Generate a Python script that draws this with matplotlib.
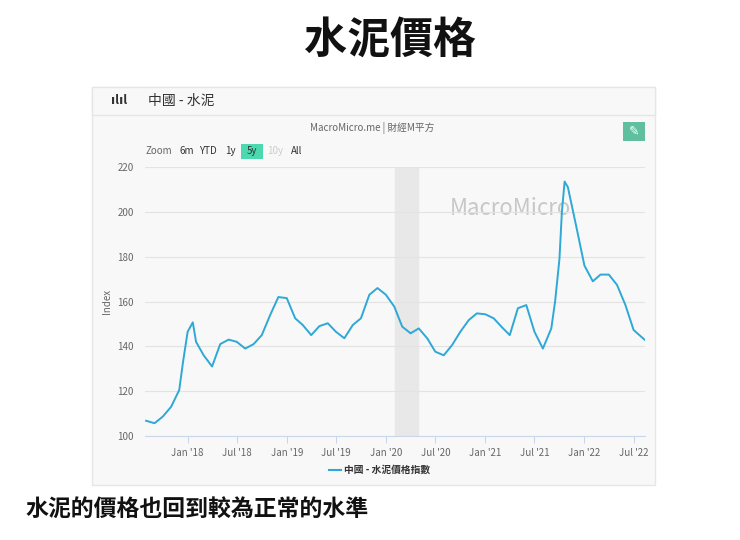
import matplotlib
matplotlib.use("Agg")
import matplotlib.pyplot as plt
from matplotlib.patches import Rectangle
import pandas as pd

plt.rcParams['font.family'] = ['Noto Sans CJK TC', 'DejaVu Sans']

dates = ["2017-08-01","2017-09-01","2017-10-01","2017-11-01","2017-12-01","2017-12-15","2018-01-01","2018-01-20",
         "2018-02-01","2018-03-01","2018-04-01","2018-05-01","2018-06-01","2018-07-01","2018-08-01","2018-09-01",
         "2018-10-01","2018-11-01","2018-12-01","2019-01-01","2019-02-01","2019-03-01","2019-04-01","2019-05-01",
         "2019-06-01","2019-07-01","2019-08-01","2019-09-01","2019-10-01","2019-11-01","2019-12-01","2020-01-01",
         "2020-02-01","2020-03-01","2020-04-01","2020-05-01","2020-06-01","2020-07-01","2020-08-01","2020-09-01",
         "2020-10-01","2020-11-01","2020-12-01","2021-01-01","2021-02-01","2021-03-01","2021-04-01","2021-05-01",
         "2021-06-01","2021-07-01","2021-08-01","2021-09-01","2021-09-15","2021-10-01","2021-10-10","2021-10-20",
         "2021-11-01","2021-12-01","2022-01-01","2022-02-01","2022-03-01","2022-04-01","2022-05-01","2022-06-01",
         "2022-07-01","2022-08-10"]
values = [106.8,105.7,108.6,113,120.5,133,146.5,150.7,
          142,136,131,141,143,142,139,141,
          145,154,162,161.5,152.5,149.5,145,149,
          150.3,146.5,143.6,149.5,152.5,163,166,163,
          157.7,148.8,145.8,148,143.6,137.6,136,140.6,
          146.5,151.7,154.7,154.3,152.5,148.8,145,157,
          158.4,146.5,139,148,160,179,200,213.5,
          211,194,176,169,172,172,167.4,158.4,
          147.3,143]
series_name = "中國 - 水泥價格指數"
tick_labels = ["Jan '18","Jul '18","Jan '19","Jul '19","Jan '20","Jul '20","Jan '21","Jul '21","Jan '22","Jul '22"]
tick_dates = ["2018-01-01","2018-07-01","2019-01-01","2019-07-01","2020-01-01","2020-07-01","2021-01-01","2021-07-01","2022-01-01","2022-07-01"]
yticks = [100,120,140,160,180,200,220]

W,H = 740,540
fig = plt.figure(figsize=(W/100,H/100), dpi=100)
fig.patch.set_facecolor("white")
fig.text(390/W, 1-40/H, "水泥價格", ha="center", va="center", fontsize=31, fontweight="bold", color="#111")
fig.text(25/W, 1-510/H, "水泥的價格也回到較為正常的水準", ha="left", va="center", fontsize=16.5, fontweight="bold", color="#111")

fig.patches.append(Rectangle((92/W, 1-485/H), (655-92)/W, (485-87)/H, transform=fig.transFigure, facecolor="#f8f8f8", edgecolor="#e6e6e6", zorder=0))
fig.patches.append(Rectangle((92/W, 1-115/H), (655-92)/W, (115-87)/H, transform=fig.transFigure, facecolor="#f8f8f8", edgecolor="#e6e6e6", zorder=0))
fig.text(111/W, 1-101/H, "ılıl", fontsize=9, fontweight="bold", color="#333", va="center")
fig.text(148/W, 1-101/H, "中國 - 水泥", fontsize=10, color="#333", va="center")
fig.text(372/W, 1-128/H, "MacroMicro.me | 財經M平方", fontsize=7, color="#666", ha="center", va="center")
fig.patches.append(Rectangle((623/W, 1-141/H), 22/W, 19/H, transform=fig.transFigure, facecolor="#5fbf9f", edgecolor="none"))
fig.text(634/W, 1-131.5/H, "✎", fontsize=9, color="white", ha="center", va="center", family="DejaVu Sans")
xs = [(146,"Zoom","#666"),(179,"6m","#333"),(199,"YTD","#333"),(225,"1y","#333"),(247,"5y","#333"),(267,"10y","#ccc"),(291,"All","#333")]
fig.patches.append(Rectangle((241/W, 1-159/H), 22/W, 15/H, transform=fig.transFigure, facecolor="#4dd9b0", edgecolor="none"))
for x,t,c in xs:
    fig.text(x/W, 1-151.5/H, t, fontsize=7, color=c, va="center")

ax = fig.add_axes([145/W, 1-436/H, (645-145)/W, (436-167)/H])
ax.set_zorder(5)
ax.set_facecolor("none")
d = pd.to_datetime(dates)
ax.axvspan(pd.Timestamp("2020-02-03"), pd.Timestamp("2020-04-30"), color="#e8e8e8", zorder=0)
ax.text(0.73, 0.845, "MacroMicro", transform=ax.transAxes, fontsize=16, color="#bbbbbb", ha="center", va="center", alpha=0.8, zorder=1)
ax.plot(d, values, color="#2ea8d6", lw=1.4, zorder=3)
ax.set_xlim(pd.Timestamp("2017-07-28"), pd.Timestamp("2022-08-12"))
ax.set_ylim(100, 220)
ax.set_yticks(yticks)
ax.set_xticks(pd.to_datetime(tick_dates))
ax.set_xticklabels(tick_labels)
ax.grid(axis="y", color="#e3e3e3", lw=0.8)
for s in ["top","right","left"]:
    ax.spines[s].set_visible(False)
ax.spines["bottom"].set_color("#ccd6eb")
ax.tick_params(axis="y", length=0, labelsize=7, colors="#666", pad=8)
ax.tick_params(axis="x", length=5, color="#ccd6eb", labelsize=7, colors="#666")
ax.set_ylabel("Index", fontsize=7, color="#666")
fig.lines.append(plt.Line2D([329/W, 341/W], [1-470/H]*2, transform=fig.transFigure, color="#2ea8d6", lw=1.5))
fig.text(344/W, 1-470/H, series_name, fontsize=7, color="#333", va="center", fontweight="bold")
fig.savefig("out.png", dpi=100)
